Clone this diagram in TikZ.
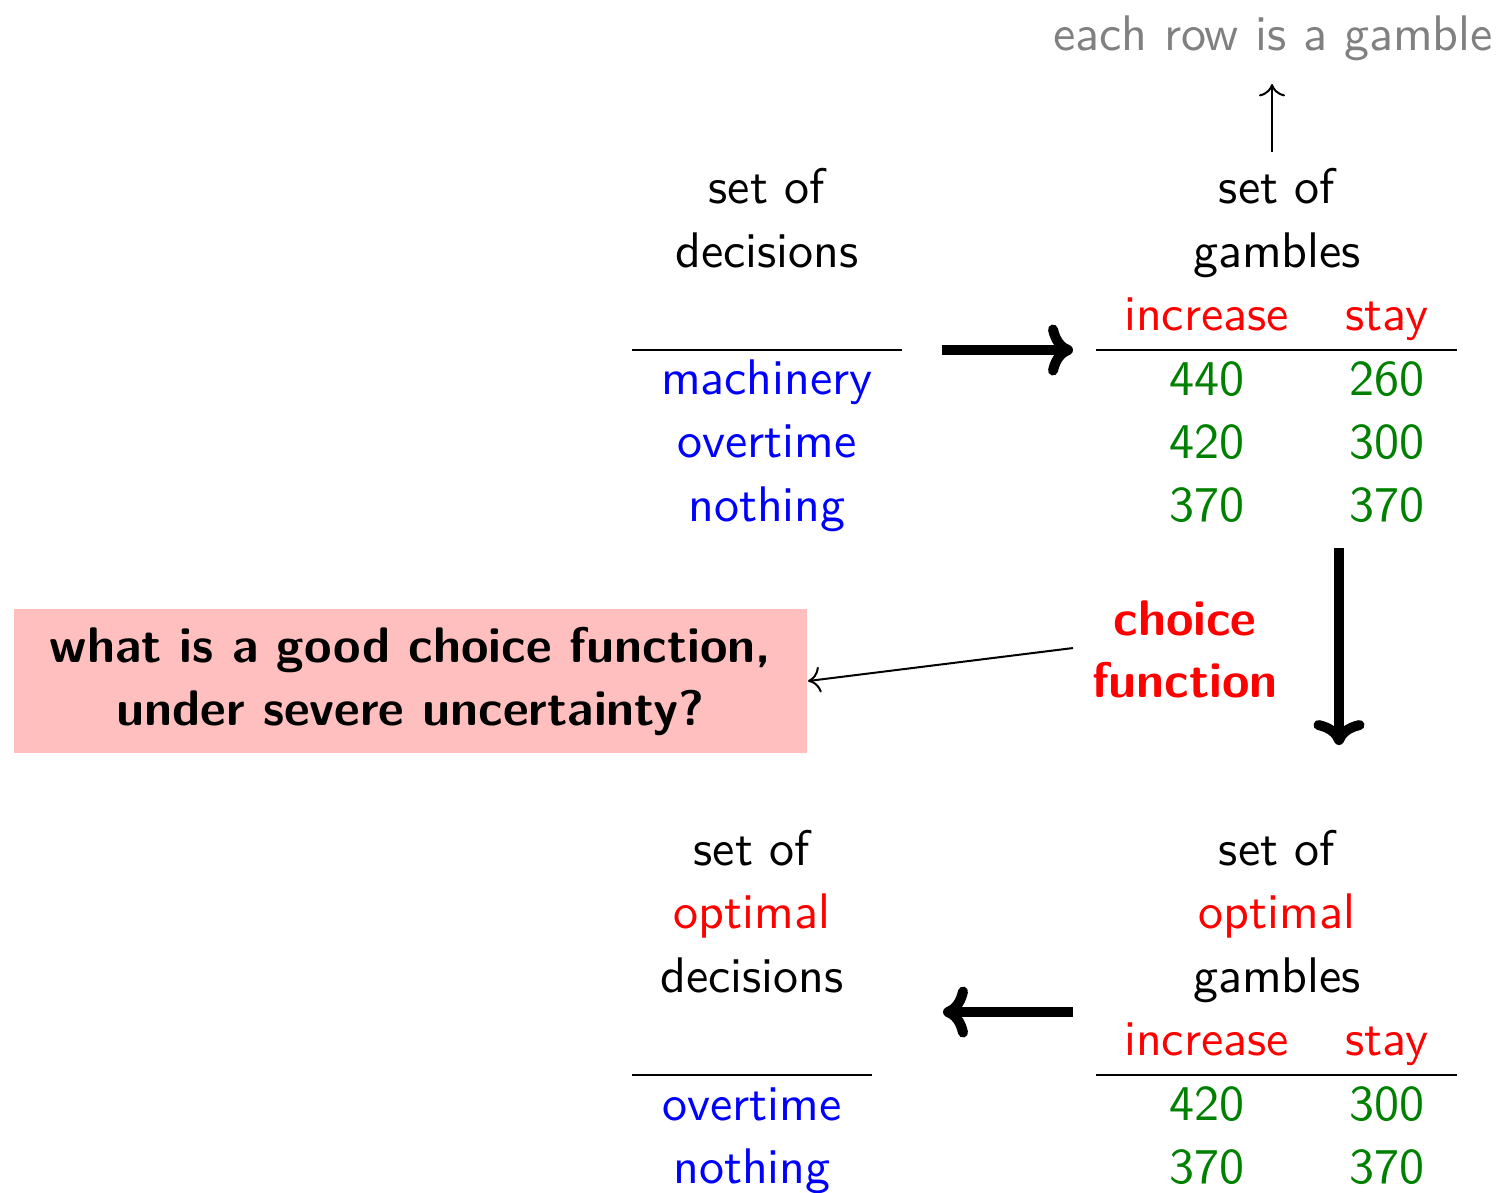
\documentclass[tikz,border=0pt]{standalone}
\usepackage{fontspec}
\renewcommand{\familydefault}{\sfdefault}
\usetikzlibrary{arrows.meta}
\definecolor{dgreen}{rgb}{0,0.5,0}
\definecolor{pinkbox}{rgb}{1,0.75,0.75}
\tikzset{
  txt/.style={anchor=base, inner sep=0pt, font=\fontsize{10}{12}\selectfont},
  hd/.style={txt, text=black},
  dec/.style={txt, text=blue},
  num/.style={txt, text=dgreen},
  col/.style={txt, text=red},
  rule/.style={line width=0.4pt},
  bigarrow/.style={line width=2pt, -{Computer Modern Rightarrow[length=5pt,width=10.2pt]}},
  thinarrow/.style={line width=0.4pt, -{Computer Modern Rightarrow}},
}
\begin{document}
\begin{tikzpicture}[x=0.2pt, y=-0.2pt]
\useasboundingbox (0,0) rectangle (1501,1192);
% note at top
\node[txt, text=black!50] (note) at (1273,50) {each row is a gamble};
\coordinate (noteS) at (1272,152);
\coordinate (noteN) at (1272,84);
\draw[thinarrow] (noteS) -- (noteN);
% top-left table
\node[hd] (tl1) at (767,203) {set of};
\node[hd] (tl2) at (767,267) {decisions};
\coordinate (tlrA) at (632,350);
\coordinate (tlrB) at (902,350);
\draw[rule] (tlrA) -- (tlrB);
\node[dec] (d1) at (767,394) {machinery};
\node[dec] (d2) at (767,457) {overtime};
\node[dec] (d3) at (767,521) {nothing};
% top-right table
\node[hd] (tr1) at (1277,203) {set of};
\node[hd] (tr2) at (1277,267) {gambles};
\node[col] (c1) at (1206.5,330) {increase};
\node[col] (c2) at (1387,330) {stay};
\coordinate (trrA) at (1096,350);
\coordinate (trrB) at (1457,350);
\draw[rule] (trrA) -- (trrB);
\node[num] (g11) at (1206.5,395) {440};
\node[num] (g12) at (1386.5,395) {260};
\node[num] (g21) at (1206.5,458) {420};
\node[num] (g22) at (1386.5,458) {300};
\node[num] (g31) at (1206.5,521) {370};
\node[num] (g32) at (1386.5,521) {370};
% arrow top
\coordinate (a1s) at (942,350);
\coordinate (a1e) at (1073,350);
\draw[bigarrow] (a1s) -- (a1e);
% down arrow
\coordinate (a2s) at (1339,548);
\coordinate (a2e) at (1339,745);
\draw[bigarrow] (a2s) -- (a2e);
% choice function
\node[txt, text=red, font=\fontsize{10}{12}\selectfont\bfseries] (cf1) at (1185,635) {choice};
\node[txt, text=red, font=\fontsize{10}{12}\selectfont\bfseries] (cf2) at (1185,697) {function};
% question box
\node[fill=pinkbox, inner sep=0pt, minimum width=158.6pt, minimum height=28.8pt] (q) at (410.5,681) {};
\node[txt, font=\fontsize{10}{12}\selectfont\bfseries] (q1) at (410.5,662) {what is a good choice function,};
\node[txt, font=\fontsize{10}{12}\selectfont\bfseries] (q2) at (410.5,725) {under severe uncertainty?};
\coordinate (cfout) at (1073,648);
\draw[thinarrow] (cfout) -- (q.east);
% bottom-right table
\node[hd] (br1) at (1277,865) {set of};
\node[col] (br2) at (1277,928) {optimal};
\node[hd] (br3) at (1277,992) {gambles};
\node[col] (bc1) at (1206.5,1055) {increase};
\node[col] (bc2) at (1387,1055) {stay};
\coordinate (brrA) at (1096,1075);
\coordinate (brrB) at (1457,1075);
\draw[rule] (brrA) -- (brrB);
\node[num] (h11) at (1206.5,1120) {420};
\node[num] (h12) at (1386.5,1120) {300};
\node[num] (h21) at (1206.5,1183) {370};
\node[num] (h22) at (1386.5,1183) {370};
% bottom-left table
\node[hd] (bl1) at (752,865) {set of};
\node[col] (bl2) at (752,928) {optimal};
\node[hd] (bl3) at (752,992) {decisions};
\coordinate (blrA) at (632,1075);
\coordinate (blrB) at (872,1075);
\draw[rule] (blrA) -- (blrB);
\node[dec] (e1) at (752,1120) {overtime};
\node[dec] (e2) at (752,1183) {nothing};
% bottom arrow
\coordinate (a3s) at (1073,1012);
\coordinate (a3e) at (943,1012);
\draw[bigarrow] (a3s) -- (a3e);
\end{tikzpicture}
\end{document}
